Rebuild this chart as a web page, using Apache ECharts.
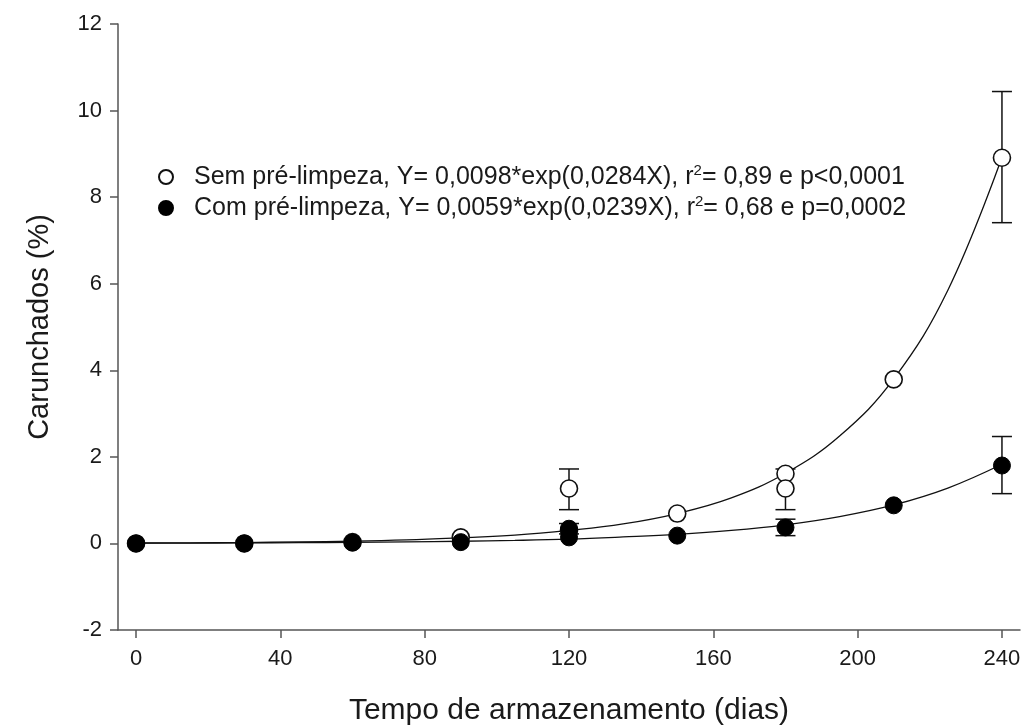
<!DOCTYPE html>
<html><head><meta charset="utf-8">
<script src="https://cdn.jsdelivr.net/npm/echarts@6/dist/echarts.min.js"></script>
<style>html,body{margin:0;padding:0;background:#fff}#c{width:1027px;height:727px}</style>
</head><body><div id="c"></div>
<script>
// Observed points
const semX = [0, 30, 60, 90, 120, 120, 150, 180, 180, 210, 240];
const semY = [0, 0, 0.03, 0.14, 1.27, 0.30, 0.69, 1.61, 1.27, 3.79, 8.91];
const comX = [0, 30, 60, 90, 120, 120, 150, 180, 210, 240];
const comY = [0, 0, 0.02, 0.03, 0.34, 0.14, 0.18, 0.37, 0.88, 1.80];
// Error bars: x, low, high
const semErrX = [120, 180, 240];
const semErrLow = [0.78, 0.78, 7.41];
const semErrHigh = [1.72, 1.72, 10.44];
const comErrX = [120, 180, 240];
const comErrLow = [0.22, 0.18, 1.15];
const comErrHigh = [0.46, 0.56, 2.47];
// Fitted curves
const curveX = [0, 15, 30, 45, 60, 75, 90, 105, 120, 135, 150, 165, 180, 195, 210, 225, 240];
const semCurve = [0.01, 0.015, 0.02, 0.035, 0.05, 0.08, 0.13, 0.19, 0.30, 0.45, 0.69, 1.05, 1.62, 2.48, 3.80, 5.85, 8.92];
const comCurve = [0.006, 0.008, 0.012, 0.017, 0.025, 0.035, 0.05, 0.07, 0.10, 0.15, 0.21, 0.30, 0.43, 0.62, 0.89, 1.28, 1.83];
// Axis ticks
const xTicks = [0, 40, 80, 120, 160, 200, 240];
const semName = 'Sem pré-limpeza';
const comName = 'Com pré-limpeza';
const semLabel = 'Sem pré-limpeza, Y= 0,0098*exp(0,0284X), r{sup|2}= 0,89 e p<0,0001';
const comLabel = 'Com pré-limpeza, Y= 0,0059*exp(0,0239X), r{sup|2}= 0,68 e p=0,0002';

const FONT = 'Liberation Sans, Arial, sans-serif';
const zip = (a, b) => a.map((v, i) => [v, b[i]]);
const zip3 = (a, b, c) => a.map((v, i) => [v, b[i], c[i]]);

function errRender(params, api) {
  const x = api.value(0);
  const lo = api.coord([x, api.value(1)]);
  const hi = api.coord([x, api.value(2)]);
  const w = 10;
  const st = { stroke: '#111', lineWidth: 1.5 };
  return {
    type: 'group',
    children: [
      { type: 'line', shape: { x1: lo[0], y1: lo[1], x2: hi[0], y2: hi[1] }, style: st },
      { type: 'line', shape: { x1: lo[0] - w, y1: lo[1], x2: lo[0] + w, y2: lo[1] }, style: st },
      { type: 'line', shape: { x1: hi[0] - w, y1: hi[1], x2: hi[0] + w, y2: hi[1] }, style: st }
    ]
  };
}

const chart = echarts.init(document.getElementById('c'), null, { renderer: 'canvas' });
chart.setOption({
  animation: false,
  backgroundColor: '#fff',
  textStyle: { fontFamily: FONT },
  grid: { left: 118, right: 7, top: 24, bottom: 97, containLabel: false, outerBoundsMode: 'none' },
  legend: {
    data: [semName, comName],
    orient: 'vertical',
    left: 153,
    top: 158,
    itemWidth: 14,
    itemHeight: 14,
    itemGap: 3,
    formatter: n => n === semName ? semLabel : comLabel,
    textStyle: {
      fontFamily: FONT, fontSize: 25, color: '#1a1a1a', padding: [0, 0, 0, 16], lineHeight: 28,
      rich: { sup: { fontSize: 15, verticalAlign: 'top', lineHeight: 28, padding: [0, 0, 10, 0], color: '#1a1a1a', fontFamily: FONT } }
    }
  },
  xAxis: {
    type: 'value', min: -5, max: 245,
    name: 'Tempo de armazenamento (dias)', nameLocation: 'middle', nameGap: 66,
    nameTextStyle: { fontSize: 30, color: '#1a1a1a', fontFamily: FONT },
    axisLine: { onZero: false, lineStyle: { color: '#555', width: 1.5 } },
    axisTick: { show: true, length: 8, lineStyle: { color: '#555', width: 1.5 }, customValues: xTicks },
    axisLabel: { fontSize: 22, color: '#1a1a1a', margin: 18, customValues: xTicks, fontFamily: FONT },
    splitLine: { show: false }
  },
  yAxis: {
    type: 'value', min: -2, max: 12, interval: 2,
    name: 'Carunchados (%)', nameLocation: 'middle', nameGap: 64, nameRotate: 90,
    nameTextStyle: { fontSize: 29, color: '#1a1a1a', fontFamily: FONT },
    axisLine: { show: true, onZero: false, lineStyle: { color: '#555', width: 1.5 } },
    axisTick: { show: true, length: 8, lineStyle: { color: '#555', width: 1.5 } },
    axisLabel: { fontSize: 22, color: '#1a1a1a', margin: 16, fontFamily: FONT },
    splitLine: { show: false }
  },
  series: [
    { name: 'semFit', type: 'line', data: zip(curveX, semCurve), smooth: 0.4, showSymbol: false, symbol: 'none',
      lineStyle: { color: '#111', width: 1.3 }, z: 1, silent: true },
    { name: 'comFit', type: 'line', data: zip(curveX, comCurve), smooth: 0.4, showSymbol: false, symbol: 'none',
      lineStyle: { color: '#111', width: 1.3 }, z: 1, silent: true },
    { name: 'semErr', type: 'custom', renderItem: errRender, data: zip3(semErrX, semErrLow, semErrHigh), z: 2 },
    { name: 'comErr', type: 'custom', renderItem: errRender, data: zip3(comErrX, comErrLow, comErrHigh), z: 2 },
    { name: semName, type: 'scatter', data: zip(semX, semY), symbol: 'circle', symbolSize: 17,
      itemStyle: { color: '#fff', borderColor: '#111', borderWidth: 1.6, opacity: 1 }, z: 3 },
    { name: comName, type: 'scatter', data: zip(comX, comY), symbol: 'circle', symbolSize: 17,
      itemStyle: { color: '#000', borderColor: '#000', borderWidth: 1, opacity: 1 }, z: 4 }
  ]
});
</script></body></html>
